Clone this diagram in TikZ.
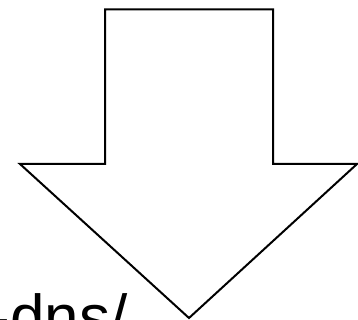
\documentclass[tikz,border=0pt]{standalone}
\usepackage{fontspec}
\setmainfont{Liberation Sans}
\begin{document}
\begin{tikzpicture}[x=1pt,y=-1pt]
\tikzset{arrowshape/.style={draw=black, line width=2pt, line join=miter, fill=white},
  lbltext/.style={anchor=base west, inner sep=0pt, font=\fontsize{62}{70}\selectfont}}
\useasboundingbox (0,0) rectangle (358,320);
\clip (0,0) rectangle (358,320);
\draw[arrowshape] (105,9.5) -- (273,9.5) -- (273,164) -- (357,164) -- (189,318) -- (20,164) -- (105,164) -- cycle;
\node[lbltext] (lbl) at (-10.6,338) {-dns/};
\end{tikzpicture}
\end{document}
